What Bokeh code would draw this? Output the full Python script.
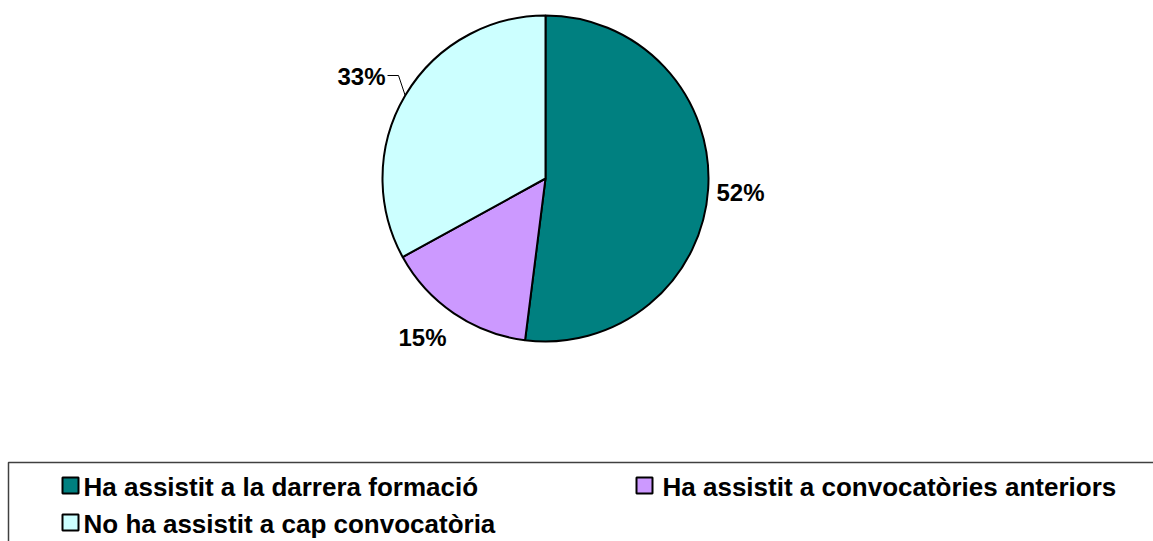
import numpy as np
from bokeh.plotting import figure
from bokeh.models import Range1d
from bokeh.core.properties import value
from bokeh.embed import file_html
from bokeh.resources import INLINE

# ---- data ----
categories = ["Ha assistit a la darrera formació",
              "Ha assistit a convocatòries anteriors",
              "No ha assistit a cap convocatòria"]
shares = [52, 15, 33]
labels = ["52%", "15%", "33%"]
colors = ["#008080", "#CC99FF", "#CCFFFF"]

W, H = 1153, 541
p = figure(width=W, height=H, output_backend="svg", toolbar_location=None,
           x_range=Range1d(0, W), y_range=Range1d(0, H),
           x_axis_type=None, y_axis_type=None, min_border=0)
p.outline_line_color = None
p.grid.visible = False
p.background_fill_color = "white"

def px(X):  # page x -> data
    return X
def py(Y):  # page y -> data
    return H - Y

FONT = value("Liberation Sans")

# ---- pie ----
cx, cy, R = px(545), py(178), 163
frac = np.array(shares, dtype=float) / sum(shares)
cum = np.concatenate([[0], np.cumsum(frac)])
starts = np.pi / 2 - 2 * np.pi * cum[:-1]
ends = np.pi / 2 - 2 * np.pi * cum[1:]
p.wedge(x=cx, y=cy, radius=R, start_angle=starts, end_angle=ends,
        direction="clock", fill_color=colors, line_color="black", line_width=2)

# ---- data labels ----
lab_pos = [(740, 192), (422, 337), (361, 76)]
p.text(x=[px(a) for a, b in lab_pos], y=[py(b) for a, b in lab_pos], text=labels,
       text_font=FONT, text_font_style="bold", text_font_size="24px",
       text_align="center", text_baseline="middle", text_color="black")

# leader line for the third slice
mid = (starts[2] + ends[2]) / 2
ex, ey = cx + R * np.cos(mid), cy + R * np.sin(mid)
p.line(x=[ex, px(398), px(387)], y=[ey, py(75), py(75)], line_color="black", line_width=1)

# ---- legend ----
p.quad(left=[px(8)], right=[px(1300)], top=[py(462)], bottom=[py(600)],
       fill_color=None, line_color="#404040", line_width=1.5)
leg_sq = [(70, 485), (644, 485), (70, 522)]
leg_tx = [(83, 486), (662, 486), (83, 523)]
p.rect(x=[px(a) for a, b in leg_sq], y=[py(b) for a, b in leg_sq], width=16, height=16,
       fill_color=colors, line_color="black", line_width=2)
p.text(x=[px(a) for a, b in leg_tx], y=[py(b) for a, b in leg_tx], text=categories,
       text_font=FONT, text_font_style="bold", text_font_size="26px",
       text_align="left", text_baseline="middle", text_color="black")

open("out.html", "w").write(file_html(p, INLINE))
